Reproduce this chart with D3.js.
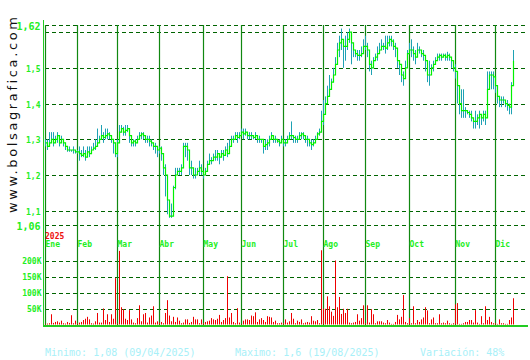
<!DOCTYPE html>
<html lang="es">
<head>
<meta charset="utf-8">
<title>bolsagrafica</title>
<style>
  body { margin: 0; background: #fff; }
  svg { display: block; }
</style>
</head>
<body>
<svg id="chart"></svg>
<script src="https://d3js.org/d3.v7.min.js"></script>
<script>
// meses y número de sesiones de cada uno
const months = ["Ene","Feb","Mar","Abr","May","Jun","Jul","Ago","Sep","Oct","Nov","Dic"];
const monthDays = [16,20,21,22,19,21,20,21,22,23,20,10];

// cierre diario
const close = [
  1.29,1.28,1.29,1.30,1.29,1.30,1.31,1.29,1.30,1.29,1.28,1.27,1.27,1.27,1.27,1.265,
  1.265,1.26,1.255,1.26,1.25,1.265,1.26,1.27,1.275,1.28,1.29,1.30,1.31,1.305,1.31,1.315,1.31,1.30,1.29,1.26,
  1.29,1.32,1.33,1.32,1.325,1.33,1.31,1.29,1.295,1.29,1.30,1.31,1.315,1.31,1.30,1.30,1.295,1.29,1.28,1.28,1.27,
  1.275,1.26,1.22,1.20,1.13,1.085,1.085,1.165,1.20,1.21,1.21,1.22,1.28,1.28,1.27,1.22,1.22,1.20,1.20,1.21,1.22,1.21,
  1.20,1.21,1.23,1.24,1.24,1.25,1.25,1.26,1.25,1.26,1.255,1.27,1.26,1.28,1.30,1.30,1.31,1.305,1.31,
  1.32,1.315,1.32,1.31,1.31,1.31,1.305,1.31,1.30,1.30,1.30,1.28,1.285,1.29,1.30,1.31,1.30,1.30,1.295,1.29,1.30,
  1.29,1.29,1.30,1.31,1.31,1.305,1.30,1.30,1.31,1.315,1.31,1.30,1.30,1.29,1.285,1.29,1.30,1.315,1.32,1.35,
  1.37,1.40,1.42,1.44,1.46,1.48,1.51,1.55,1.57,1.58,1.56,1.56,1.58,1.60,1.57,1.55,1.54,1.535,1.535,1.54,1.56,
  1.56,1.55,1.51,1.50,1.52,1.53,1.54,1.55,1.56,1.56,1.555,1.57,1.58,1.575,1.56,1.555,1.52,1.51,1.48,1.47,1.50,1.54,
  1.55,1.55,1.54,1.53,1.55,1.55,1.54,1.535,1.52,1.48,1.48,1.50,1.51,1.52,1.53,1.535,1.53,1.535,1.53,1.535,1.53,1.52,1.50,
  1.49,1.45,1.40,1.38,1.38,1.38,1.375,1.37,1.36,1.35,1.35,1.36,1.37,1.36,1.37,1.36,1.44,1.48,1.48,1.475,
  1.45,1.42,1.41,1.41,1.41,1.40,1.395,1.39,1.45,1.52
];
// máximo diario
const high = [
  1.30,1.30,1.32,1.32,1.32,1.31,1.32,1.31,1.31,1.30,1.29,1.28,1.28,1.27,1.28,1.27,
  1.27,1.28,1.27,1.28,1.27,1.28,1.28,1.28,1.29,1.30,1.33,1.31,1.34,1.32,1.33,1.33,1.32,1.31,1.30,1.29,
  1.30,1.34,1.34,1.335,1.34,1.34,1.32,1.30,1.30,1.30,1.31,1.32,1.32,1.32,1.31,1.31,1.31,1.30,1.29,1.29,1.28,
  1.28,1.28,1.26,1.23,1.20,1.13,1.12,1.17,1.22,1.22,1.22,1.23,1.29,1.29,1.29,1.27,1.24,1.22,1.22,1.22,1.24,1.23,
  1.21,1.22,1.24,1.26,1.25,1.26,1.27,1.27,1.26,1.27,1.27,1.28,1.29,1.30,1.31,1.31,1.32,1.32,1.32,
  1.33,1.33,1.33,1.32,1.32,1.32,1.31,1.32,1.31,1.31,1.30,1.30,1.30,1.30,1.31,1.32,1.31,1.31,1.30,1.30,1.31,
  1.30,1.30,1.31,1.32,1.35,1.31,1.31,1.31,1.32,1.32,1.32,1.31,1.31,1.30,1.30,1.30,1.31,1.32,1.33,1.38,
  1.41,1.42,1.45,1.48,1.47,1.50,1.53,1.57,1.59,1.61,1.58,1.59,1.60,1.61,1.59,1.56,1.55,1.55,1.55,1.56,1.58,
  1.59,1.57,1.53,1.52,1.53,1.54,1.56,1.57,1.58,1.57,1.59,1.59,1.59,1.59,1.58,1.57,1.55,1.52,1.50,1.49,1.52,1.55,
  1.57,1.58,1.56,1.55,1.57,1.56,1.55,1.55,1.53,1.50,1.52,1.51,1.52,1.53,1.54,1.54,1.54,1.54,1.54,1.545,1.54,1.53,1.51,
  1.51,1.48,1.44,1.44,1.44,1.39,1.38,1.38,1.38,1.36,1.38,1.37,1.38,1.37,1.38,1.38,1.49,1.49,1.49,1.49,
  1.47,1.44,1.42,1.42,1.42,1.41,1.41,1.40,1.46,1.55
];
// mínimo diario
const low = [
  1.28,1.27,1.28,1.29,1.28,1.29,1.29,1.28,1.29,1.28,1.27,1.265,1.265,1.265,1.26,1.26,
  1.26,1.24,1.25,1.25,1.24,1.25,1.25,1.26,1.27,1.27,1.28,1.29,1.30,1.29,1.30,1.30,1.30,1.29,1.26,1.25,
  1.25,1.30,1.32,1.31,1.31,1.32,1.29,1.28,1.28,1.28,1.29,1.30,1.30,1.30,1.29,1.29,1.28,1.28,1.27,1.26,1.25,
  1.26,1.24,1.20,1.14,1.09,1.08,1.08,1.09,1.16,1.20,1.20,1.20,1.22,1.25,1.24,1.20,1.20,1.19,1.19,1.20,1.20,1.20,
  1.19,1.20,1.21,1.23,1.23,1.24,1.24,1.24,1.23,1.25,1.24,1.26,1.25,1.26,1.28,1.29,1.30,1.29,1.30,
  1.31,1.30,1.31,1.30,1.30,1.30,1.30,1.30,1.29,1.29,1.29,1.26,1.27,1.27,1.28,1.30,1.29,1.29,1.29,1.28,1.29,
  1.28,1.28,1.29,1.30,1.30,1.29,1.29,1.29,1.30,1.30,1.30,1.29,1.28,1.28,1.27,1.28,1.29,1.30,1.31,1.32,
  1.34,1.37,1.40,1.43,1.45,1.46,1.49,1.52,1.53,1.55,1.50,1.52,1.55,1.57,1.51,1.53,1.53,1.52,1.52,1.53,1.54,
  1.55,1.53,1.49,1.48,1.50,1.52,1.52,1.54,1.55,1.55,1.54,1.55,1.56,1.56,1.55,1.53,1.50,1.48,1.46,1.45,1.47,1.52,
  1.54,1.53,1.52,1.51,1.54,1.54,1.53,1.52,1.49,1.46,1.45,1.48,1.49,1.51,1.52,1.52,1.52,1.53,1.52,1.52,1.52,1.50,1.49,
  1.47,1.40,1.37,1.36,1.36,1.36,1.37,1.36,1.35,1.33,1.33,1.34,1.33,1.34,1.35,1.34,1.39,1.45,1.44,1.44,
  1.43,1.40,1.39,1.39,1.40,1.39,1.38,1.37,1.37,1.45
];
// volumen diario (miles)
const volume = [
  2,3,4,32,5,8,10,6,12,4,3,8,5,29,4,12,
  3,6,8,14,18,24,16,4,3,10,36,6,6,50,14,32,8,32,18,145,
  3,230,54,48,18,14,45,16,6,4,20,60,10,32,36,6,22,28,57,6,10,
  6,8,4,36,76,28,10,24,8,22,12,4,6,16,16,5,8,24,16,16,4,16,
  4,8,10,12,20,16,14,18,30,8,14,20,151,22,36,8,4,51,6,
  2,12,16,16,14,28,26,38,8,16,20,14,8,26,24,22,8,12,4,4,6,
  4,16,6,10,36,18,4,12,8,16,4,6,8,6,26,12,10,14,4,232,
  49,49,88,57,40,27,200,54,86,33,49,36,49,6,4,6,8,32,12,20,60,
  4,60,6,48,32,4,10,10,10,6,4,14,6,2,2,8,30,16,24,92,8,4,
  20,4,57,4,14,8,16,22,54,44,4,16,22,4,4,32,4,6,4,12,4,2,4,
  63,67,2,2,4,8,8,14,14,6,45,6,2,26,4,57,14,24,8,4,
  4,2,16,4,4,2,2,14,22,82
];

const priceTicks = [1.62, 1.6, 1.5, 1.4, 1.3, 1.2, 1.1, 1.06];
const priceLabels = ["1,62", "", "1,5", "1,4", "1,3", "1,2", "1,1", "1,06"];
const volTicks = [200, 150, 100, 50];
const volLabels = ["200K", "150K", "100K", "50K"];
const year = "2025";
const footer = ["Minimo: 1,08 (09/04/2025)", "Maximo: 1,6 (19/08/2025)", "Variación: 48%"];

const W = 530, H = 360;
const svg = d3.select("#chart").attr("width", W).attr("height", H);
svg.append("rect").attr("width", W).attr("height", H).attr("fill", "#fff");

const N = close.length;
const x = d3.scaleLinear().domain([0, N]).range([44.7, 44.7 + 2 * N]);
const y = d3.scaleLinear().domain([1.06, 1.62]).range([225, 25]);
const yv = d3.scaleLinear().domain([0, 200]).range([324.5, 260.5]);

const monthStart = [];
monthDays.reduce((acc, n) => { monthStart.push(acc); return acc + n; }, 0);

const mono = "'DejaVu Sans Mono', monospace";
const gridGreen = "#006400";

// rejilla horizontal precios
svg.append("g").selectAll("line").data(priceTicks).enter().append("line")
  .attr("x1", 45).attr("x2", 527)
  .attr("y1", d => Math.round(y(d)) + 0.5).attr("y2", d => Math.round(y(d)) + 0.5)
  .attr("stroke", gridGreen).attr("stroke-width", 1.2).attr("stroke-dasharray", "4,3");

// rejilla horizontal volumen
svg.append("g").selectAll("line").data(volTicks).enter().append("line")
  .attr("x1", 45).attr("x2", 527)
  .attr("y1", d => Math.round(yv(d)) + 0.5).attr("y2", d => Math.round(yv(d)) + 0.5)
  .attr("stroke", gridGreen).attr("stroke-width", 1.2).attr("stroke-dasharray", "4,3");

// lineas de mes
svg.append("g").selectAll("line").data(monthStart).enter().append("line")
  .attr("x1", d => Math.round(x(d)) + 0.5).attr("x2", d => Math.round(x(d)) + 0.5)
  .attr("y1", 25).attr("y2", 326)
  .attr("stroke", "#118811").attr("stroke-width", 1.2);

// barras maximo-minimo
svg.append("g").selectAll("line").data(close).enter().append("line")
  .attr("x1", (d, i) => Math.round(x(i)) + 0.5).attr("x2", (d, i) => Math.round(x(i)) + 0.5)
  .attr("y1", (d, i) => y(high[i])).attr("y2", (d, i) => y(low[i]))
  .attr("stroke", "#1ea2b4").attr("stroke-width", 1);

// linea de cierre
const line = d3.line().x((d, i) => Math.round(x(i)) + 0.5).y(d => y(d)).curve(d3.curveStepAfter);
svg.append("path").datum(close)
  .attr("d", line).attr("fill", "none")
  .attr("stroke", "#00f000").attr("stroke-width", 1.2);

// barras de volumen
svg.append("g").selectAll("rect").data(volume).enter().append("rect")
  .attr("x", (d, i) => Math.round(x(i)))
  .attr("y", d => yv(d)).attr("width", 1)
  .attr("height", d => yv(0) - yv(d))
  .attr("fill", "#ee0000");

// ejes
svg.append("line").attr("x1", 43.5).attr("x2", 43.5).attr("y1", 20).attr("y2", 327)
  .attr("stroke", "#22cc22").attr("stroke-width", 1);
svg.append("line").attr("x1", 43).attr("x2", 528).attr("y1", 326).attr("y2", 326)
  .attr("stroke", "#22cc22").attr("stroke-width", 2);

// etiquetas de precio
svg.append("g").selectAll("text").data(priceTicks).enter().append("text")
  .attr("x", 40.5).attr("y", d => y(d))
  .attr("dy", (d, i) => (i === 0 || i === priceTicks.length - 1) ? 5 : 4)
  .attr("text-anchor", "end")
  .attr("font-family", mono).attr("font-weight", "bold")
  .attr("font-size", (d, i) => (i === 0 || i === priceTicks.length - 1) ? "10px" : "8px")
  .attr("fill", "#22ee22")
  .text((d, i) => priceLabels[i]);

// etiquetas de volumen
svg.append("g").selectAll("text").data(volTicks).enter().append("text")
  .attr("x", 41.5).attr("y", d => yv(d)).attr("dy", 3)
  .attr("text-anchor", "end")
  .attr("font-family", mono).attr("font-weight", "bold").attr("font-size", "8px")
  .attr("fill", "#22ee22")
  .text((d, i) => volLabels[i]);

// meses
svg.append("g").selectAll("text").data(months).enter().append("text")
  .attr("x", (d, i) => Math.round(x(monthStart[i])) + 0.5).attr("y", 246.5)
  .attr("font-family", mono).attr("font-size", "8px").attr("font-weight", "bold")
  .attr("fill", "#22ee22")
  .text(d => d);

svg.append("text").attr("x", 45).attr("y", 239)
  .attr("font-family", mono).attr("font-size", "8px").attr("font-weight", "bold")
  .attr("fill", "#ee1111").text(year);

// web vertical
svg.append("text")
  .attr("transform", "translate(17,115) rotate(-90)")
  .attr("text-anchor", "middle")
  .attr("textLength", 196).attr("lengthAdjust", "spacing")
  .attr("font-family", "'DejaVu Sans', sans-serif").attr("font-size", "13px")
  .attr("fill", "#111")
  .text("www.bolsagrafica.com");

// pie
const footX = [45, 235, 420];
svg.append("g").selectAll("text").data(footer).enter().append("text")
  .attr("x", (d, i) => footX[i]).attr("y", 355.5)
  .attr("font-family", mono).attr("font-size", "10px")
  .attr("fill", "#a8f0f8")
  .text(d => d);
</script>
</body>
</html>
